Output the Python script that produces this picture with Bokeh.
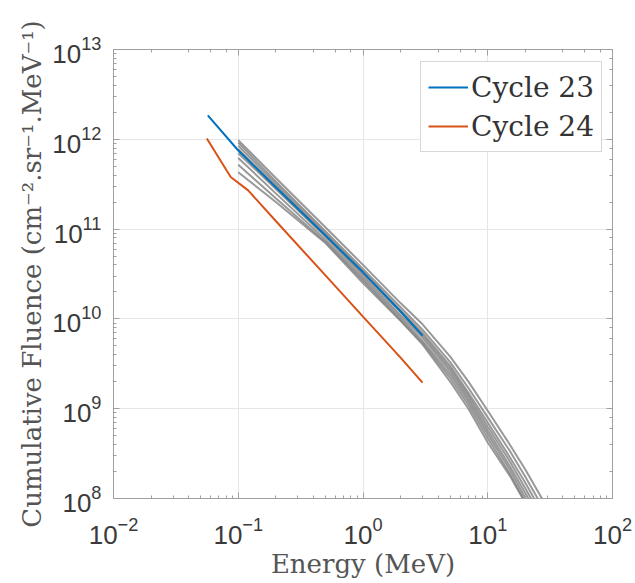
from bokeh.plotting import figure
from bokeh.models import LogAxis, LogTicker, Legend, LegendItem, ColumnDataSource, Range1d
from bokeh.embed import file_html
from bokeh.resources import INLINE

# ---------------- data ----------------
energy_c23 = [0.057, 0.1, 0.2, 0.5, 1.0, 2.0, 3.0]
fluence_c23 = [1.85e12, 7.5e11, 2.93e11, 8.5e10, 3.3e10, 1.21e10, 6.5e9]

energy_c24 = [0.056, 0.087, 0.12, 0.2, 0.5, 1.0, 2.0, 3.0]
fluence_c24 = [1.02e12, 3.8e11, 2.7e11, 1.23e11, 3.05e10, 1.06e10, 3.7e9, 1.95e9]

energy_model = [0.1, 0.2, 0.5, 1, 2, 3, 5, 7, 10, 15, 20, 30]
model_1 = [9.8e11, 3.7e11, 1.05e11, 4.0e10, 1.5e10, 8.7e9, 3.8e9, 2.0e9, 9.5e8, 4.0e8, 2.1e8, 7.9e7]
model_2 = [9.2e11, 3.4e11, 9.5e10, 3.6e10, 1.35e10, 7.6e9, 3.3e9, 1.7e9, 8.0e8, 3.4e8, 1.75e8, 6.5e7]
model_3 = [8.5e11, 3.2e11, 9.0e10, 3.4e10, 1.25e10, 7.0e9, 3.0e9, 1.5e9, 7.0e8, 2.9e8, 1.5e8, 5.5e7]
model_4 = [7.8e11, 3.0e11, 8.6e10, 3.2e10, 1.2e10, 6.6e9, 2.8e9, 1.4e9, 6.3e8, 2.6e8, 1.3e8, 4.8e7]
model_5 = [7.0e11, 2.8e11, 8.2e10, 3.0e10, 1.1e10, 6.2e9, 2.6e9, 1.3e9, 5.7e8, 2.3e8, 1.15e8, 4.2e7]
model_6 = [6.2e11, 2.5e11, 7.6e10, 2.8e10, 1.03e10, 5.7e9, 2.4e9, 1.2e9, 5.2e8, 2.1e8, 1.02e8, 3.7e7]
model_7 = [5.2e11, 2.2e11, 7.2e10, 2.65e10, 9.7e9, 5.4e9, 2.2e9, 1.1e9, 4.7e8, 1.9e8, 9.2e7, 3.4e7]
model_8 = [4.3e11, 2.0e11, 7.0e10, 2.5e10, 9.5e9, 5.2e9, 2.0e9, 1.0e9, 4.2e8, 1.8e8, 8.9e7, 3.5e7]
model_curves = [model_1, model_2, model_3, model_4, model_5, model_6, model_7, model_8]

series_labels = ["Cycle 23", "Cycle 24"]
x_label = "Energy (MeV)"
y_label = "Cumulative Fluence (cm\u207b\u00b2.sr\u207b\u00b9.MeV\u207b\u00b9)"

# ---------------- figure ----------------
W, H = 635, 583
p = figure(width=W, height=H, x_axis_type="log", y_axis_type="log",
           x_range=Range1d(1e-2, 1e2), y_range=Range1d(1e8, 1e13),
           output_backend="svg", toolbar_location=None,
           min_border_left=113, min_border_right=23,
           min_border_top=49, min_border_bottom=85)
p.background_fill_color = "white"
p.border_fill_color = "white"
p.outline_line_color = "#a0a0a0"

AX = "#a0a0a0"
TXT = "#3a3a3a"
tick_font = "Liberation Sans"
serif = "DejaVu Serif"

for ax in [p.xaxis[0], p.yaxis[0]]:
    ax.axis_line_color = AX
    ax.major_tick_line_color = AX
    ax.minor_tick_line_color = AX
    ax.major_tick_in = 6
    ax.major_tick_out = 0
    ax.minor_tick_in = 3
    ax.minor_tick_out = 0
    ax.major_label_text_font = tick_font
    ax.major_label_text_font_size = "26px"
    ax.major_label_text_color = TXT
    ax.axis_label_text_font = serif
    ax.axis_label_text_font_size = "26px"
    ax.axis_label_text_font_style = "normal"
    ax.axis_label_text_color = "#555555"

p.xaxis[0].axis_label = x_label
p.yaxis[0].axis_label = y_label
p.xaxis[0].major_label_standoff = 18
p.yaxis[0].major_label_standoff = 12
p.xaxis[0].axis_label_standoff = 2
p.yaxis[0].axis_label_standoff = 2

for loc in ["above", "right"]:
    ax = LogAxis(ticker=LogTicker())
    ax.axis_line_color = AX
    ax.major_tick_line_color = AX
    ax.minor_tick_line_color = AX
    ax.major_tick_in = 6
    ax.major_tick_out = 0
    ax.minor_tick_in = 3
    ax.minor_tick_out = 0
    ax.major_label_text_font_size = "6px"
    ax.major_label_text_color = None
    ax.major_label_standoff = 0
    p.add_layout(ax, loc)

p.xgrid.grid_line_color = "#e6e6e6"
p.ygrid.grid_line_color = "#e6e6e6"
p.xgrid.minor_grid_line_color = None
p.ygrid.minor_grid_line_color = None

# model band (gray curves)
src = ColumnDataSource(dict(xs=[energy_model] * len(model_curves), ys=model_curves))
p.multi_line("xs", "ys", source=src, line_color="#808080", line_alpha=0.8, line_width=2)

r23 = p.line(energy_c23, fluence_c23, line_color="#0072BD", line_width=2)
r24 = p.line(energy_c24, fluence_c24, line_color="#D95319", line_width=2)

legend = Legend(items=[LegendItem(label=series_labels[0], renderers=[r23]),
                       LegendItem(label=series_labels[1], renderers=[r24])],
                location=(307, 346))
legend.label_text_font = serif
legend.label_text_font_size = "28px"
legend.label_text_color = "#333333"
legend.glyph_width = 40
legend.glyph_height = 36
legend.label_standoff = 3
legend.label_height = 36
legend.spacing = 3
legend.padding = 7
legend.margin = 0
legend.border_line_color = "#b0b0b0"
legend.background_fill_alpha = 1.0
p.add_layout(legend)

open("out.html", "w").write(file_html(p, INLINE))
